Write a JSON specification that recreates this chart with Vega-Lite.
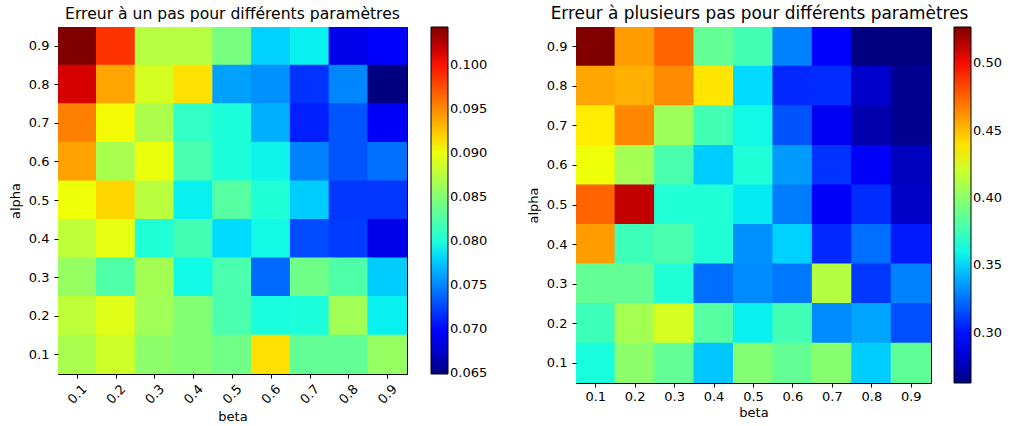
{
"$schema": "https://vega.github.io/schema/vega-lite/v6.json",
"padding": {"left": 8, "top": 4, "right": 0, "bottom": 0},
"background": "white",
"spacing": 37,
"config": {
 "font": "DejaVu Sans",
 "view": {"stroke": "black", "strokeWidth": 1},
 "axis": {"labelFont": "DejaVu Sans", "labelFontSize": 13, "labelColor": "black", "titleFont": "DejaVu Sans", "titleFontSize": 13, "titleFontWeight": "normal", "titleColor": "black", "tickColor": "black", "tickSize": 4, "tickWidth": 1, "domain": false, "grid": false, "labelPadding": 3},
 "title": {"font": "DejaVu Sans", "fontSize": 15.6, "fontWeight": "normal", "color": "black", "offset": 4, "anchor": "middle", "frame": "group"},
 "legend": {"labelFont": "DejaVu Sans", "labelFontSize": 13, "labelColor": "black", "gradientThickness": 17, "gradientStrokeColor": "black", "gradientStrokeWidth": 1, "labelOffset": 10, "offset": 24, "padding": 0, "labelOverlap": false, "labelFlush": false, "direction": "vertical", "orient": "right"}
},
"resolve": {"scale": {"color": "independent"}},
"datasets": {
 "un": [
  {"alpha": 0.9, "beta": 0.1, "err": 0.10435}, {"alpha": 0.9, "beta": 0.2, "err": 0.09866}, {"alpha": 0.9, "beta": 0.3, "err": 0.08737}, {"alpha": 0.9, "beta": 0.4, "err": 0.08737}, {"alpha": 0.9, "beta": 0.5, "err": 0.08444}, {"alpha": 0.9, "beta": 0.6, "err": 0.07789}, {"alpha": 0.9, "beta": 0.7, "err": 0.07907}, {"alpha": 0.9, "beta": 0.8, "err": 0.06848}, {"alpha": 0.9, "beta": 0.9, "err": 0.06951},
  {"alpha": 0.8, "beta": 0.1, "err": 0.10139}, {"alpha": 0.8, "beta": 0.2, "err": 0.09388}, {"alpha": 0.8, "beta": 0.3, "err": 0.08895}, {"alpha": 0.8, "beta": 0.4, "err": 0.09140}, {"alpha": 0.8, "beta": 0.5, "err": 0.07599}, {"alpha": 0.8, "beta": 0.6, "err": 0.07540}, {"alpha": 0.8, "beta": 0.7, "err": 0.07176}, {"alpha": 0.8, "beta": 0.8, "err": 0.07500}, {"alpha": 0.8, "beta": 0.9, "err": 0.06485},
  {"alpha": 0.7, "beta": 0.1, "err": 0.09546}, {"alpha": 0.7, "beta": 0.2, "err": 0.09033}, {"alpha": 0.7, "beta": 0.3, "err": 0.08685}, {"alpha": 0.7, "beta": 0.4, "err": 0.08105}, {"alpha": 0.7, "beta": 0.5, "err": 0.08006}, {"alpha": 0.7, "beta": 0.6, "err": 0.07658}, {"alpha": 0.7, "beta": 0.7, "err": 0.07097}, {"alpha": 0.7, "beta": 0.8, "err": 0.07307}, {"alpha": 0.7, "beta": 0.9, "err": 0.06900},
  {"alpha": 0.6, "beta": 0.1, "err": 0.09408}, {"alpha": 0.6, "beta": 0.2, "err": 0.08677}, {"alpha": 0.6, "beta": 0.3, "err": 0.08993}, {"alpha": 0.6, "beta": 0.4, "err": 0.08223}, {"alpha": 0.6, "beta": 0.5, "err": 0.08006}, {"alpha": 0.6, "beta": 0.6, "err": 0.07927}, {"alpha": 0.6, "beta": 0.7, "err": 0.07480}, {"alpha": 0.6, "beta": 0.8, "err": 0.07307}, {"alpha": 0.6, "beta": 0.9, "err": 0.07405},
  {"alpha": 0.5, "beta": 0.1, "err": 0.09013}, {"alpha": 0.5, "beta": 0.2, "err": 0.09183}, {"alpha": 0.5, "beta": 0.3, "err": 0.08756}, {"alpha": 0.5, "beta": 0.4, "err": 0.07907}, {"alpha": 0.5, "beta": 0.5, "err": 0.08274}, {"alpha": 0.5, "beta": 0.6, "err": 0.08026}, {"alpha": 0.5, "beta": 0.7, "err": 0.07773}, {"alpha": 0.5, "beta": 0.8, "err": 0.07192}, {"alpha": 0.5, "beta": 0.9, "err": 0.07188},
  {"alpha": 0.4, "beta": 0.1, "err": 0.08780}, {"alpha": 0.4, "beta": 0.2, "err": 0.08974}, {"alpha": 0.4, "beta": 0.3, "err": 0.08026}, {"alpha": 0.4, "beta": 0.4, "err": 0.08184}, {"alpha": 0.4, "beta": 0.5, "err": 0.07830}, {"alpha": 0.4, "beta": 0.6, "err": 0.07947}, {"alpha": 0.4, "beta": 0.7, "err": 0.07267}, {"alpha": 0.4, "beta": 0.8, "err": 0.07212}, {"alpha": 0.4, "beta": 0.9, "err": 0.06840},
  {"alpha": 0.3, "beta": 0.1, "err": 0.08586}, {"alpha": 0.3, "beta": 0.2, "err": 0.08243}, {"alpha": 0.3, "beta": 0.3, "err": 0.08658}, {"alpha": 0.3, "beta": 0.4, "err": 0.07947}, {"alpha": 0.3, "beta": 0.5, "err": 0.08223}, {"alpha": 0.3, "beta": 0.6, "err": 0.07386}, {"alpha": 0.3, "beta": 0.7, "err": 0.08397}, {"alpha": 0.3, "beta": 0.8, "err": 0.08243}, {"alpha": 0.3, "beta": 0.9, "err": 0.07773},
  {"alpha": 0.2, "beta": 0.1, "err": 0.08776}, {"alpha": 0.2, "beta": 0.2, "err": 0.08934}, {"alpha": 0.2, "beta": 0.3, "err": 0.08638}, {"alpha": 0.2, "beta": 0.4, "err": 0.08492}, {"alpha": 0.2, "beta": 0.5, "err": 0.08223}, {"alpha": 0.2, "beta": 0.6, "err": 0.07986}, {"alpha": 0.2, "beta": 0.7, "err": 0.08006}, {"alpha": 0.2, "beta": 0.8, "err": 0.08638}, {"alpha": 0.2, "beta": 0.9, "err": 0.07907},
  {"alpha": 0.1, "beta": 0.1, "err": 0.08677}, {"alpha": 0.1, "beta": 0.2, "err": 0.08855}, {"alpha": 0.1, "beta": 0.3, "err": 0.08539}, {"alpha": 0.1, "beta": 0.4, "err": 0.08500}, {"alpha": 0.1, "beta": 0.5, "err": 0.08401}, {"alpha": 0.1, "beta": 0.6, "err": 0.09140}, {"alpha": 0.1, "beta": 0.7, "err": 0.08342}, {"alpha": 0.1, "beta": 0.8, "err": 0.08330}, {"alpha": 0.1, "beta": 0.9, "err": 0.08586}
 ],
 "plusieurs": [
  {"alpha": 0.9, "beta": 0.1, "err": 0.5268}, {"alpha": 0.9, "beta": 0.2, "err": 0.4595}, {"alpha": 0.9, "beta": 0.3, "err": 0.4750}, {"alpha": 0.9, "beta": 0.4, "err": 0.3868}, {"alpha": 0.9, "beta": 0.5, "err": 0.3763}, {"alpha": 0.9, "beta": 0.6, "err": 0.3293}, {"alpha": 0.9, "beta": 0.7, "err": 0.2957}, {"alpha": 0.9, "beta": 0.8, "err": 0.2627}, {"alpha": 0.9, "beta": 0.9, "err": 0.2630},
  {"alpha": 0.8, "beta": 0.1, "err": 0.4568}, {"alpha": 0.8, "beta": 0.2, "err": 0.4539}, {"alpha": 0.8, "beta": 0.3, "err": 0.4639}, {"alpha": 0.8, "beta": 0.4, "err": 0.4389}, {"alpha": 0.8, "beta": 0.5, "err": 0.3525}, {"alpha": 0.8, "beta": 0.6, "err": 0.3060}, {"alpha": 0.8, "beta": 0.7, "err": 0.3071}, {"alpha": 0.8, "beta": 0.8, "err": 0.2801}, {"alpha": 0.8, "beta": 0.9, "err": 0.2667},
  {"alpha": 0.7, "beta": 0.1, "err": 0.4370}, {"alpha": 0.7, "beta": 0.2, "err": 0.4653}, {"alpha": 0.7, "beta": 0.3, "err": 0.4053}, {"alpha": 0.7, "beta": 0.4, "err": 0.3763}, {"alpha": 0.7, "beta": 0.5, "err": 0.3604}, {"alpha": 0.7, "beta": 0.6, "err": 0.3176}, {"alpha": 0.7, "beta": 0.7, "err": 0.2891}, {"alpha": 0.7, "beta": 0.8, "err": 0.2733}, {"alpha": 0.7, "beta": 0.9, "err": 0.2667},
  {"alpha": 0.6, "beta": 0.1, "err": 0.4317}, {"alpha": 0.6, "beta": 0.2, "err": 0.4080}, {"alpha": 0.6, "beta": 0.3, "err": 0.3789}, {"alpha": 0.6, "beta": 0.4, "err": 0.3488}, {"alpha": 0.6, "beta": 0.5, "err": 0.3657}, {"alpha": 0.6, "beta": 0.6, "err": 0.3359}, {"alpha": 0.6, "beta": 0.7, "err": 0.3089}, {"alpha": 0.6, "beta": 0.8, "err": 0.2904}, {"alpha": 0.6, "beta": 0.9, "err": 0.2770},
  {"alpha": 0.5, "beta": 0.1, "err": 0.4750}, {"alpha": 0.5, "beta": 0.2, "err": 0.5115}, {"alpha": 0.5, "beta": 0.3, "err": 0.3657}, {"alpha": 0.5, "beta": 0.4, "err": 0.3657}, {"alpha": 0.5, "beta": 0.5, "err": 0.3565}, {"alpha": 0.5, "beta": 0.6, "err": 0.3279}, {"alpha": 0.5, "beta": 0.7, "err": 0.2904}, {"alpha": 0.5, "beta": 0.8, "err": 0.3071}, {"alpha": 0.5, "beta": 0.9, "err": 0.2791},
  {"alpha": 0.4, "beta": 0.1, "err": 0.4595}, {"alpha": 0.4, "beta": 0.2, "err": 0.3749}, {"alpha": 0.4, "beta": 0.3, "err": 0.3789}, {"alpha": 0.4, "beta": 0.4, "err": 0.3657}, {"alpha": 0.4, "beta": 0.5, "err": 0.3332}, {"alpha": 0.4, "beta": 0.6, "err": 0.3499}, {"alpha": 0.4, "beta": 0.7, "err": 0.3060}, {"alpha": 0.4, "beta": 0.8, "err": 0.3242}, {"alpha": 0.4, "beta": 0.9, "err": 0.3023},
  {"alpha": 0.3, "beta": 0.1, "err": 0.3868}, {"alpha": 0.3, "beta": 0.2, "err": 0.3868}, {"alpha": 0.3, "beta": 0.3, "err": 0.3657}, {"alpha": 0.3, "beta": 0.4, "err": 0.3242}, {"alpha": 0.3, "beta": 0.5, "err": 0.3319}, {"alpha": 0.3, "beta": 0.6, "err": 0.3269}, {"alpha": 0.3, "beta": 0.7, "err": 0.4132}, {"alpha": 0.3, "beta": 0.8, "err": 0.3100}, {"alpha": 0.3, "beta": 0.9, "err": 0.3293},
  {"alpha": 0.2, "beta": 0.1, "err": 0.3749}, {"alpha": 0.2, "beta": 0.2, "err": 0.4080}, {"alpha": 0.2, "beta": 0.3, "err": 0.4238}, {"alpha": 0.2, "beta": 0.4, "err": 0.3823}, {"alpha": 0.2, "beta": 0.5, "err": 0.3578}, {"alpha": 0.2, "beta": 0.6, "err": 0.3763}, {"alpha": 0.2, "beta": 0.7, "err": 0.3319}, {"alpha": 0.2, "beta": 0.8, "err": 0.3385}, {"alpha": 0.2, "beta": 0.9, "err": 0.3163},
  {"alpha": 0.1, "beta": 0.1, "err": 0.3631}, {"alpha": 0.1, "beta": 0.2, "err": 0.4000}, {"alpha": 0.1, "beta": 0.3, "err": 0.3868}, {"alpha": 0.1, "beta": 0.4, "err": 0.3472}, {"alpha": 0.1, "beta": 0.5, "err": 0.3974}, {"alpha": 0.1, "beta": 0.6, "err": 0.3868}, {"alpha": 0.1, "beta": 0.7, "err": 0.3987}, {"alpha": 0.1, "beta": 0.8, "err": 0.3488}, {"alpha": 0.1, "beta": 0.9, "err": 0.3855}
 ]
},
"hconcat": [
 {
  "data": {"name": "un"},
  "title": {"text": "Erreur à un pas pour différents paramètres"},
  "width": 349, "height": 347,
  "mark": {"type": "rect", "strokeWidth": 0, "width": {"band": 1.04}, "height": {"band": 1.04}, "clip": true},
  "encoding": {
   "x": {"field": "beta", "type": "ordinal", "scale": {"paddingInner": 0, "paddingOuter": 0}, "axis": {"title": "beta", "labelAngle": -45, "labelAlign": "center", "labelBaseline": "middle", "labelPadding": 16, "titlePadding": 4}},
   "y": {"field": "alpha", "type": "ordinal", "sort": "descending", "scale": {"paddingInner": 0, "paddingOuter": 0}, "axis": {"title": "alpha", "labelPadding": 5, "titlePadding": 6}},
   "color": {"field": "err", "type": "quantitative",
    "scale": {"type": "linear", "interpolate": "rgb", "zero": false, "nice": false, "clamp": true,
     "domain": [0.06485, 0.069195, 0.0697875, 0.07828, 0.078675, 0.0796625, 0.09013, 0.090525, 0.09092, 0.100005, 0.100795, 0.10435],
     "range": ["#000080", "#0000ff", "#0000ff", "#00dbff", "#00e6f7", "#15ffe2", "#efff08", "#f7f500", "#ffec00", "#ff1300", "#e80000", "#800000"]},
    "legend": {"title": null, "type": "gradient", "gradientLength": 347, "values": [0.065, 0.07, 0.075, 0.08, 0.085, 0.09, 0.095, 0.1], "format": ".3f"}}
  }
 },
 {
  "data": {"name": "plusieurs"},
  "title": {"text": "Erreur à plusieurs pas pour différents paramètres", "dx": 6, "fontSize": 16.9},
  "width": 355, "height": 356,
  "mark": {"type": "rect", "strokeWidth": 0, "width": {"band": 1.04}, "height": {"band": 1.04}, "clip": true},
  "encoding": {
   "x": {"field": "beta", "type": "ordinal", "scale": {"paddingInner": 0, "paddingOuter": 0}, "axis": {"title": "beta", "labelAngle": 0, "labelPadding": 3, "titlePadding": 3}},
   "y": {"field": "alpha", "type": "ordinal", "sort": "descending", "scale": {"paddingInner": 0, "paddingOuter": 0}, "axis": {"title": "alpha", "labelPadding": 5, "titlePadding": 6}},
   "color": {"field": "err", "type": "quantitative",
    "scale": {"type": "linear", "interpolate": "rgb", "zero": false, "nice": false, "clamp": true,
     "domain": [0.2627, 0.291751, 0.2957125, 0.352494, 0.355135, 0.3617375, 0.431724, 0.434365, 0.437006, 0.497749, 0.503031, 0.5268],
     "range": ["#000080", "#0000ff", "#0000ff", "#00dbff", "#00e6f7", "#15ffe2", "#efff08", "#f7f500", "#ffec00", "#ff1300", "#e80000", "#800000"]},
    "legend": {"title": null, "type": "gradient", "gradientLength": 356, "offset": 23, "values": [0.30, 0.35, 0.40, 0.45, 0.50], "format": ".2f"}}
  }
 }
]
}
